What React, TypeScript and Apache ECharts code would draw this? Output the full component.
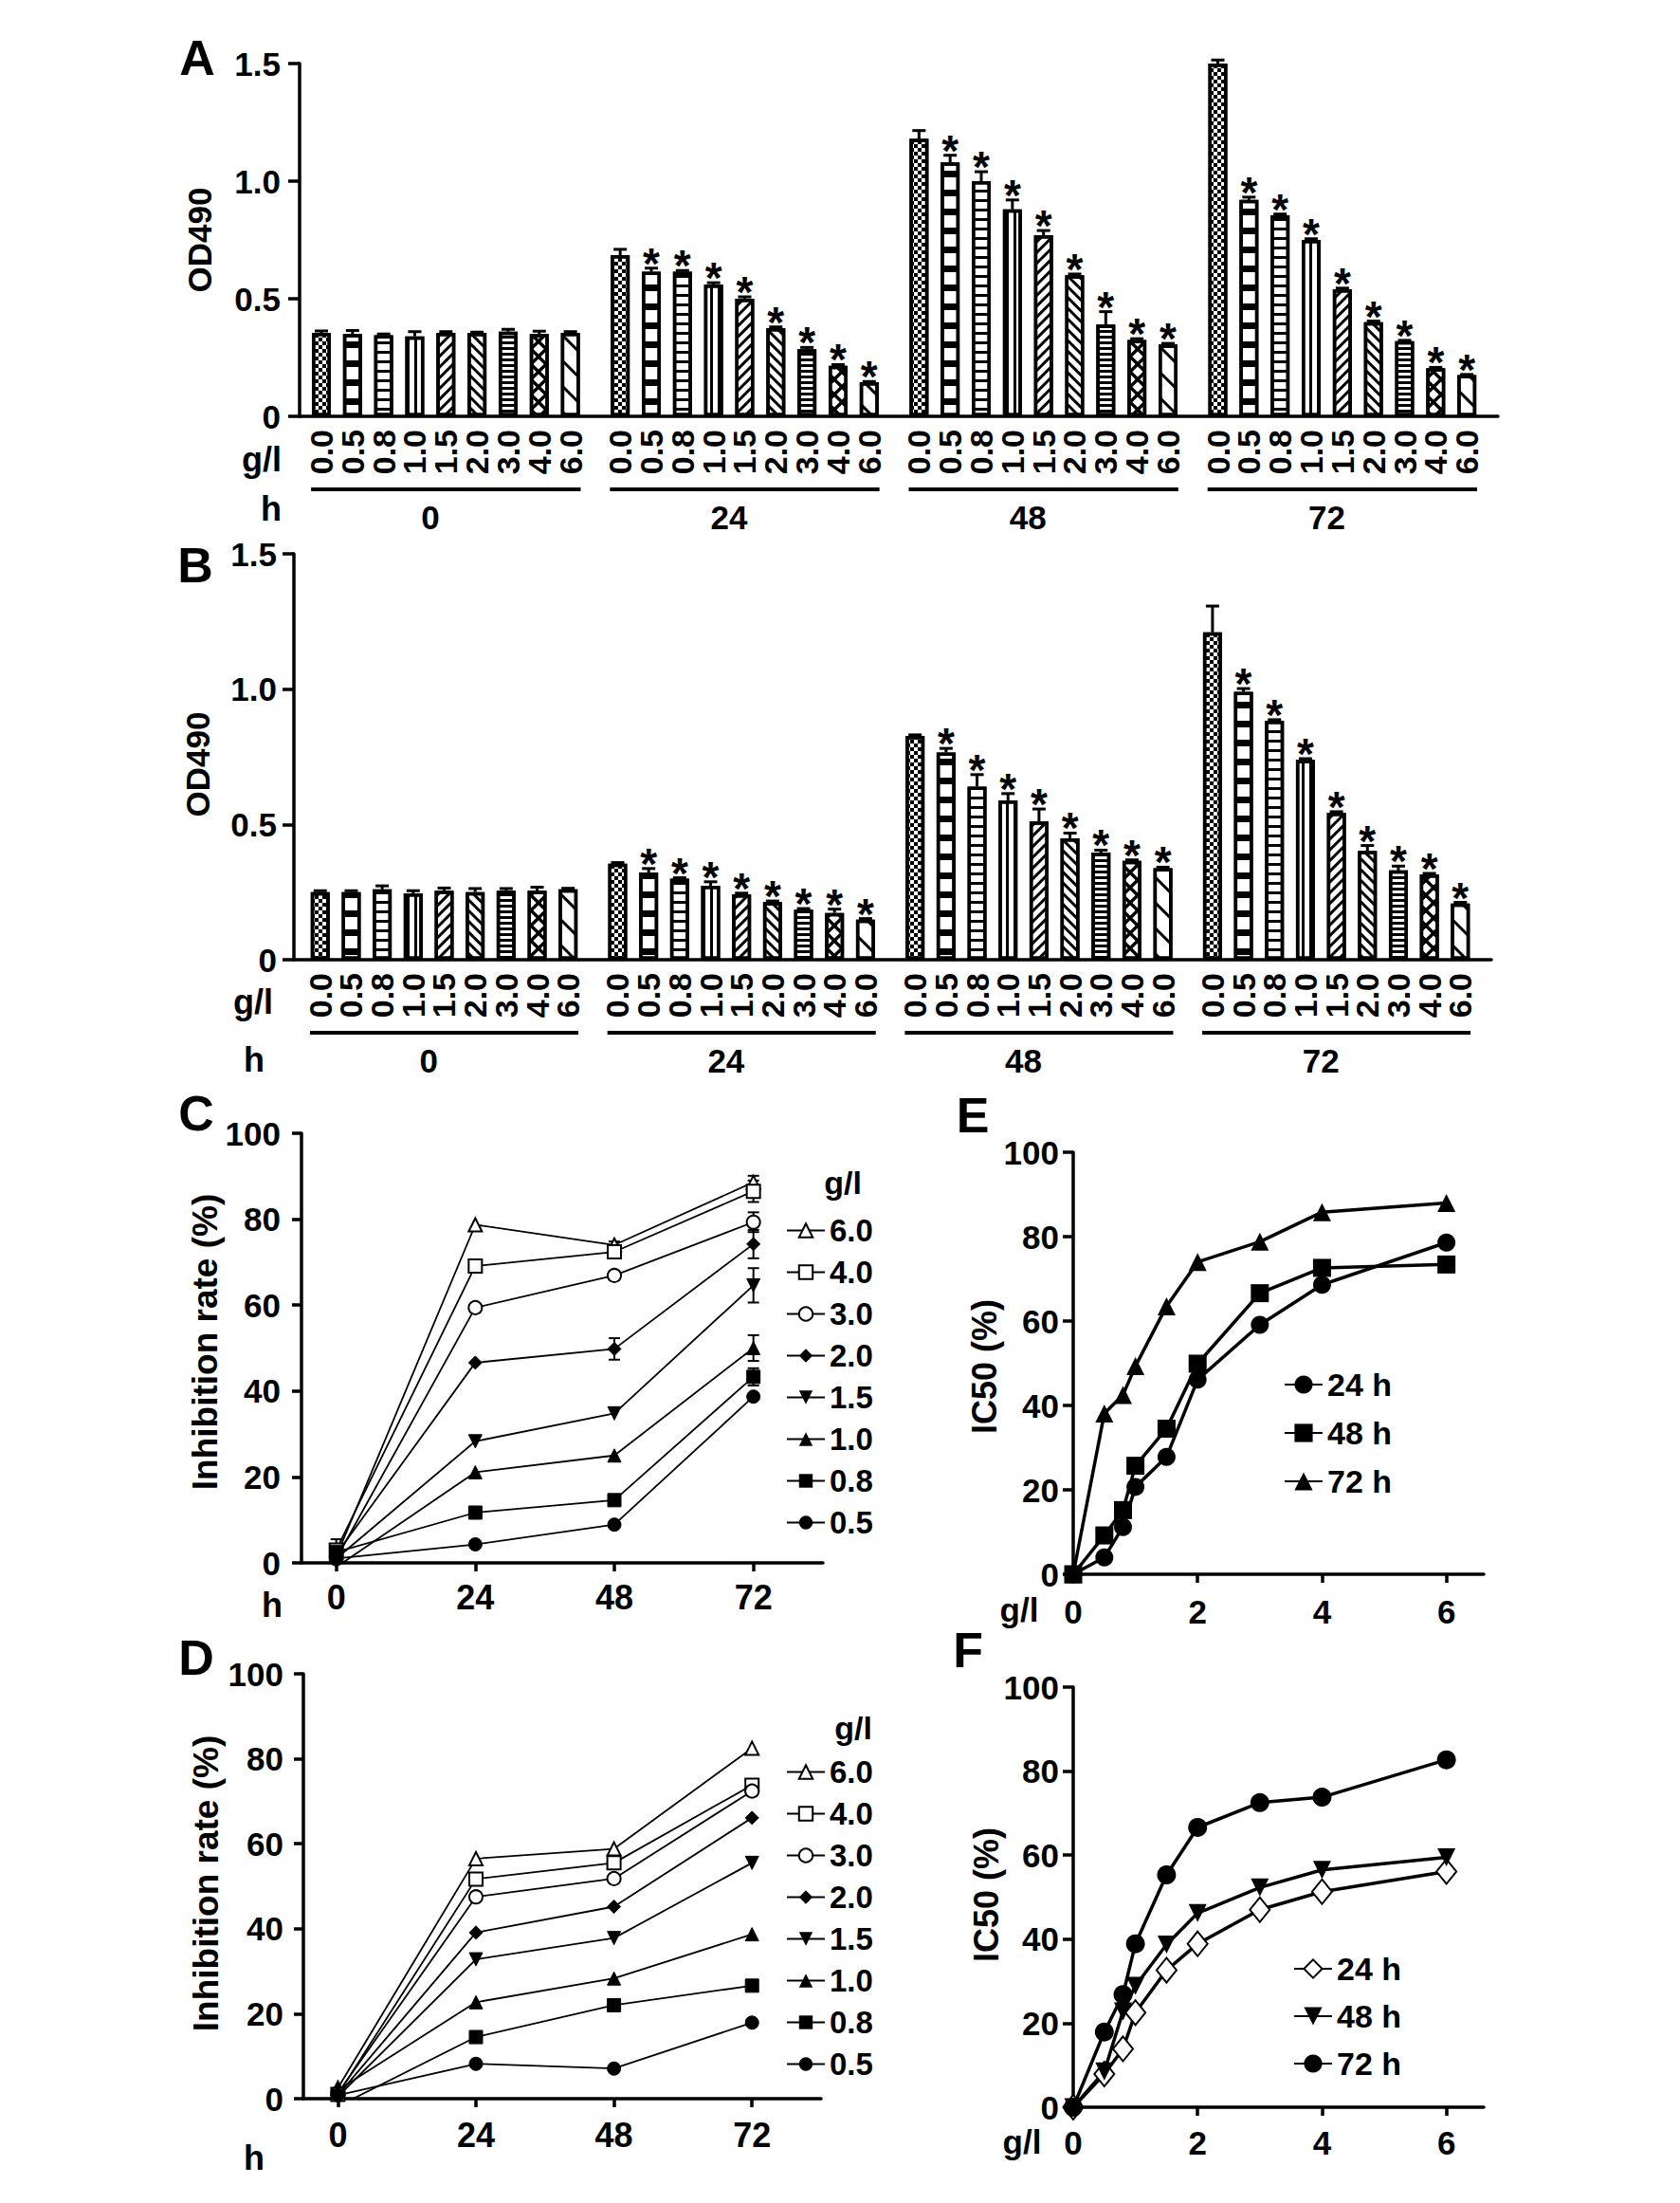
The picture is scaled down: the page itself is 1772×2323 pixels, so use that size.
import { useEffect, useRef } from "react";
import * as echarts from "echarts";

const FONT = "'Liberation Sans', Arial, Helvetica, sans-serif";

// ---- panels A and B: OD490 bars ----
const doses = ["0.0", "0.5", "0.8", "1.0", "1.5", "2.0", "3.0", "4.0", "6.0"];
const hours = [0, 24, 48, 72];

// one row per time point (0, 24, 48, 72 h), one value per dose
const odA = [
  [0.355, 0.35, 0.345, 0.34, 0.355, 0.355, 0.36, 0.35, 0.355],
  [0.685, 0.615, 0.615, 0.56, 0.5, 0.375, 0.285, 0.215, 0.145],
  [1.18, 1.08, 1.0, 0.88, 0.77, 0.6, 0.39, 0.325, 0.305],
  [1.5, 0.92, 0.855, 0.75, 0.54, 0.4, 0.32, 0.205, 0.175],
];
const errA = [
  [0.008, 0.015, 0.005, 0.02, 0.005, 0.003, 0.01, 0.012, 0.005],
  [0.025, 0.015, 0.005, 0.008, 0.008, 0.005, 0.008, 0.005, 0.003],
  [0.035, 0.03, 0.04, 0.04, 0.02, 0.005, 0.055, 0.005, 0.005],
  [0.015, 0.012, 0.005, 0.005, 0.005, 0.005, 0.003, 0.003, 0.003],
];
const odB = [
  [0.25, 0.25, 0.26, 0.245, 0.255, 0.25, 0.255, 0.255, 0.26],
  [0.355, 0.322, 0.3, 0.273, 0.242, 0.213, 0.185, 0.173, 0.148],
  [0.827, 0.766, 0.64, 0.589, 0.511, 0.449, 0.396, 0.365, 0.338],
  [1.21, 0.99, 0.883, 0.739, 0.543, 0.402, 0.33, 0.315, 0.208],
];
const errB = [
  [0.005, 0.005, 0.013, 0.01, 0.01, 0.013, 0.008, 0.013, 0.004],
  [0.004, 0.015, 0.003, 0.015, 0.004, 0.004, 0.004, 0.014, 0.004],
  [0.004, 0.015, 0.044, 0.025, 0.046, 0.019, 0.009, 0.004, 0.004],
  [0.097, 0.012, 0.004, 0.004, 0.004, 0.02, 0.016, 0.004, 0.004],
];
// significance marks (*), same layout
const sig = [
  [0, 0, 0, 0, 0, 0, 0, 0, 0],
  [0, 1, 1, 1, 1, 1, 1, 1, 1],
  [0, 1, 1, 1, 1, 1, 1, 1, 1],
  [0, 1, 1, 1, 1, 1, 1, 1, 1],
];

// ---- panels C and D: inhibition rate vs time ----
const legendDoses = ["6.0", "4.0", "3.0", "2.0", "1.5", "1.0", "0.8", "0.5"];
const inhC = [
  [1.5, 78.7, 74.0, 88.6],
  [3.0, 69.1, 72.4, 86.5],
  [1.0, 59.4, 66.9, 79.3],
  [2.0, 46.6, 49.8, 74.2],
  [1.0, 28.3, 34.8, 64.6],
  [-1.0, 21.1, 25.0, 50.0],
  [2.5, 11.7, 14.6, 43.3],
  [1.0, 4.3, 8.9, 38.7],
];
const errC = [
  [0, 0, 0.8, 1.5],
  [2.5, 0, 0.8, 2.5],
  [0, 0, 0, 2.3],
  [0, 0, 2.5, 3.3],
  [0, 0, 0, 4],
  [0, 0, 0, 3],
  [0, 0, 0, 2],
  [0, 0, 0, 0],
];
const inhD = [
  [2.5, 56.5, 58.8, 82.5],
  [1.0, 51.7, 55.5, 73.8],
  [1.3, 47.5, 51.8, 72.4],
  [0.8, 39.1, 45.2, 66.1],
  [0.5, 32.8, 37.8, 55.5],
  [2.0, 22.7, 28.3, 38.7],
  [-1.8, 14.5, 22.0, 26.6],
  [0.8, 8.2, 7.1, 17.9],
];

// ---- panels E and F: IC50 vs concentration ----
const conc = [0, 0.5, 0.8, 1.0, 1.5, 2.0, 3.0, 4.0, 6.0];
const timeNames = ["24 h", "48 h", "72 h"];
const icE = [
  [0, 4.0, 11.2, 20.7, 27.8, 46.1, 59.1, 68.6, 78.6],
  [0, 9.2, 15.2, 25.7, 34.5, 49.9, 66.6, 72.6, 73.4],
  [0, 38.1, 42.5, 49.3, 63.5, 74.0, 78.8, 85.8, 88.0],
];
const icF = [
  [0, 7.9, 13.9, 22.5, 32.6, 38.9, 47.0, 51.3, 56.1],
  [0, 8.5, 22.8, 28.9, 38.7, 46.2, 52.3, 56.5, 59.5],
  [0, 17.9, 26.8, 38.9, 55.3, 66.6, 72.5, 73.8, 82.7],
];

const GAP = 9.6; // bar slots per time group, incl. spacing
const pos = (g: number, i: number) => g * GAP + i;

const lineDecal = (w: number, gap: number, rot: number) => ({
  symbol: "rect",
  symbolSize: 1,
  color: "#000",
  backgroundColor: "#fff",
  dashArrayX: [1, 0],
  dashArrayY: [w, gap],
  rotation: rot,
});

const decals: any[] = [
  { symbol: "rect", symbolSize: 1, color: "#000", backgroundColor: "#fff", dashArrayX: [[4, 4], [0, 4, 4, 0]], dashArrayY: [4, 0], rotation: 0 },
  lineDecal(7, 13, 0),
  lineDecal(3, 7, 0),
  lineDecal(3, 5, Math.PI / 2),
  lineDecal(3, 5, -Math.PI / 4),
  lineDecal(3, 5, Math.PI / 4),
  lineDecal(2.5, 2.5, 0),
  {
    symbol: "path://M0,0L3,0L10,7L17,0L20,0L20,3L13,10L20,17L20,20L17,20L10,13L3,20L0,20L0,17L7,10L0,3Z",
    symbolSize: 1, color: "#000", backgroundColor: "#fff", dashArrayX: [16, 0], dashArrayY: [16, 0], rotation: 0,
  },
  lineDecal(3, 16, Math.PI / 4),
];

const black = "#000";
const bold = (size: number) => ({ fontSize: size, fontWeight: "bold" as const, fontFamily: FONT, color: black });
const axisLine = { show: true, onZero: false, lineStyle: { color: black, width: 3.5 } };
const tickStyle = { color: black, width: 3.5 };

function barSeries(panel: number, od: number[][]) {
  return doses.map((d, i) => ({
    type: "bar",
    name: `bar${panel}-${d}`,
    xAxisIndex: panel,
    yAxisIndex: panel,
    barWidth: 20,
    barGap: "-100%",
    z: 2,
    itemStyle: { color: "#fff", borderColor: black, borderWidth: 3.5, decal: decals[i] },
    data: hours.map((_, g) => [pos(g, i), od[g][i]]),
  }));
}

function extrasSeries(panel: number, od: number[][], err: number[][]) {
  const data: number[][] = [];
  hours.forEach((_, g) => doses.forEach((__, i) => data.push([pos(g, i), od[g][i], err[g][i], sig[g][i]])));
  return {
    type: "custom",
    xAxisIndex: panel,
    yAxisIndex: panel,
    encode: { x: 0, y: 1 },
    silent: true,
    z: 5,
    data,
    renderItem: (params: any, api: any) => {
      const p = api.value(0);
      const v = api.value(1);
      const e = api.value(2);
      const s = api.value(3);
      const top = api.coord([p, v]);
      const hi = api.coord([p, v + e]);
      const base = api.coord([p, 0]);
      const children: any[] = [];
      if (e > 0) {
        children.push({ type: "line", shape: { x1: top[0], y1: top[1], x2: hi[0], y2: hi[1] }, style: { stroke: black, lineWidth: 3 } });
        children.push({ type: "line", shape: { x1: hi[0] - 7, y1: hi[1], x2: hi[0] + 7, y2: hi[1] }, style: { stroke: black, lineWidth: 3 } });
      }
      if (s) {
        children.push({
          type: "text", x: hi[0], y: hi[1] - 5,
          style: { text: "*", fontSize: 46, fontWeight: "bold", fontFamily: FONT, fill: black, align: "center", verticalAlign: "middle" },
        });
      }
      children.push({
        type: "text", x: base[0], y: base[1] + 14, rotation: Math.PI / 2,
        style: { text: doses[params.dataIndex % doses.length], fontSize: 34, fontWeight: "bold", fontFamily: FONT, fill: black, align: "right", verticalAlign: "middle" },
      });
      return { type: "group", children };
    },
  };
}

function groupSeries(panel: number) {
  return {
    type: "custom",
    xAxisIndex: panel,
    yAxisIndex: panel,
    encode: { x: 0, y: 1 },
    silent: true,
    data: hours.map((h, g) => [pos(g, 0), 0, pos(g, doses.length - 1), h]),
    renderItem: (_: any, api: any) => {
      const a = api.coord([api.value(0) - 0.33, 0]);
      const b = api.coord([api.value(2) + 0.33, 0]);
      const mid = api.coord([(api.value(0) + api.value(2)) / 2 - 0.5, 0]);
      return {
        type: "group",
        children: [
          { type: "line", shape: { x1: a[0], y1: a[1] + 77, x2: b[0], y2: a[1] + 77 }, style: { stroke: black, lineWidth: 4 } },
          {
            type: "text", x: mid[0], y: a[1] + 106,
            style: { text: String(api.value(3)), fontSize: 35, fontWeight: "bold", fontFamily: FONT, fill: black, align: "center", verticalAlign: "middle" },
          },
        ],
      };
    },
  };
}

const symbolsCD: { symbol: string; rotate?: number }[] = [
  { symbol: "emptyTriangle" },
  { symbol: "emptyRect" },
  { symbol: "emptyCircle" },
  { symbol: "diamond" },
  { symbol: "triangle", rotate: 180 },
  { symbol: "triangle" },
  { symbol: "rect" },
  { symbol: "circle" },
];

function timeSeries(panel: number, prefix: string, vals: number[][]) {
  return legendDoses.map((d, j) => ({
    type: "line",
    name: `${prefix} ${d}`,
    xAxisIndex: panel,
    yAxisIndex: panel,
    symbol: symbolsCD[j].symbol,
    symbolRotate: symbolsCD[j].rotate ?? 0,
    symbolSize: 14,
    z: 4,
    lineStyle: { color: black, width: 1.8 },
    itemStyle: { color: black, borderColor: black },
    data: hours.map((h, k) => [h, vals[j][k]]),
  }));
}

function errSeriesC() {
  const data: number[][] = [];
  legendDoses.forEach((_, j) => hours.forEach((h, k) => {
    if (errC[j][k] > 0) data.push([h, inhC[j][k], errC[j][k]]);
  }));
  return {
    type: "custom",
    xAxisIndex: 2,
    yAxisIndex: 2,
    encode: { x: 0, y: 1 },
    silent: true,
    z: 3,
    data,
    renderItem: (_: any, api: any) => {
      const x = api.value(0), y = api.value(1), e = api.value(2);
      const lo = api.coord([x, y - e]);
      const hi = api.coord([x, y + e]);
      const st = { stroke: black, lineWidth: 2 };
      return {
        type: "group",
        children: [
          { type: "line", shape: { x1: lo[0], y1: lo[1], x2: hi[0], y2: hi[1] }, style: st },
          { type: "line", shape: { x1: lo[0] - 6, y1: lo[1], x2: lo[0] + 6, y2: lo[1] }, style: st },
          { type: "line", shape: { x1: hi[0] - 6, y1: hi[1], x2: hi[0] + 6, y2: hi[1] }, style: st },
        ],
      };
    },
  };
}

const symbolsE = [{ symbol: "circle" }, { symbol: "rect" }, { symbol: "triangle" }];
const symbolsF = [{ symbol: "emptyDiamond", size: [21, 26] }, { symbol: "triangle", rotate: 180, size: 19 }, { symbol: "circle", size: 20 }];

function concSeries(panel: number, prefix: string, vals: number[][]) {
  return timeNames.map((t, j) => {
    const sym: any = panel === 4 ? symbolsE[j] : symbolsF[j];
    return {
      type: "line",
      name: `${prefix} ${t}`,
      xAxisIndex: panel,
      yAxisIndex: panel,
      symbol: sym.symbol,
      symbolRotate: sym.rotate ?? 0,
      symbolSize: sym.size ?? 19,
      z: 4,
      lineStyle: { color: black, width: 3.5 },
      itemStyle: { color: black, borderColor: black, borderWidth: sym.symbol.startsWith("empty") ? 3.5 : 0 },
      data: conc.map((c, k) => [c, vals[j][k]]),
    };
  });
}

const grids = [
  { left: 316, top: 67, width: 1264, height: 372 },
  { left: 310, top: 584, width: 1263, height: 428 },
  { left: 318, top: 1195, width: 550, height: 453 },
  { left: 320, top: 1765, width: 546, height: 448 },
  { left: 1132, top: 1215, width: 433, height: 445 },
  { left: 1132, top: 1779, width: 433, height: 443 },
];

const barX = (gi: number, min: number) => ({
  type: "value", gridIndex: gi, min, max: 37.8,
  axisLine: { show: true, onZero: true, lineStyle: { color: black, width: 3.5 } },
  axisTick: { show: false }, axisLabel: { show: false }, splitLine: { show: false },
});
const barY = (gi: number, margin: number) => ({
  type: "value", gridIndex: gi, min: 0, max: 1.5, interval: 0.5,
  axisLine,
  axisTick: { show: true, length: 12, lineStyle: tickStyle },
  axisLabel: { ...bold(35), margin, formatter: (v: number) => (v === 0 ? "0" : v.toFixed(1)) },
  splitLine: { show: false },
});
const lineX = (gi: number, min: number, max: number, ticks: number[], size: number, margin: number) => ({
  type: "value", gridIndex: gi, min, max,
  axisLine: { show: true, onZero: true, lineStyle: { color: black, width: 3.5 } },
  axisTick: { show: true, length: 9, lineStyle: tickStyle, customValues: ticks },
  axisLabel: { ...bold(size), margin, customValues: ticks },
  splitLine: { show: false },
});
const pctY = (gi: number, size: number, margin: number, tick: number) => ({
  type: "value", gridIndex: gi, min: 0, max: 100, interval: 20,
  axisLine,
  axisTick: { show: true, length: tick, lineStyle: tickStyle },
  axisLabel: { ...bold(size), margin },
  splitLine: { show: false },
});

const txt = (text: string, x: number, y: number, size: number, rotation = 0) => ({
  type: "text", x, y, rotation, silent: true,
  style: { text, fontSize: size, fontWeight: "bold", fontFamily: FONT, fill: black, align: "center", verticalAlign: "middle" },
});

const legendBase = {
  orient: "vertical",
  selectedMode: false,
  padding: 0,
  itemWidth: 40,
  formatter: (n: string) => n.slice(2),
};

export default function App() {
  const ref = useRef<HTMLDivElement>(null);

  useEffect(() => {
    if (!ref.current) return;
    const chart = echarts.init(ref.current, null, { renderer: "svg" });
    const R = Math.PI / 2;

    const option: any = {
      animation: false,
      backgroundColor: "#fff",
      grid: grids,
      xAxis: [
        barX(0, -0.7),
        barX(1, -0.85),
        lineX(2, -6, 84, hours, 36, 18),
        lineX(3, -6, 84, hours, 36, 20),
        lineX(4, 0, 6.6, [0, 2, 4, 6], 35, 22),
        lineX(5, 0, 6.6, [0, 2, 4, 6], 35, 20),
      ],
      yAxis: [
        barY(0, 20),
        barY(1, 18),
        pctY(2, 35, 22, 10),
        pctY(3, 35, 21, 10),
        pctY(4, 35, 15, 11),
        pctY(5, 35, 15, 11),
      ],
      legend: [
        { ...legendBase, left: 829, top: 1281, itemHeight: 18, itemGap: 11, data: legendDoses.map((d) => `C ${d}`), textStyle: bold(33) },
        { ...legendBase, left: 829, top: 1852, itemHeight: 18, itemGap: 11, data: legendDoses.map((d) => `D ${d}`), textStyle: bold(33) },
        { ...legendBase, left: 1354, top: 1443, itemHeight: 24, itemGap: 17, data: timeNames.map((t) => `E ${t}`), textStyle: bold(34) },
        { ...legendBase, left: 1364, top: 2059, itemHeight: 24, itemGap: 16, data: timeNames.map((t) => `F ${t}`), textStyle: bold(34) },
      ],
      graphic: [
        txt("A", 208, 61, 52),
        txt("B", 206, 596, 52),
        txt("C", 207, 1174, 52),
        txt("D", 207, 1748, 52),
        txt("E", 1026, 1176, 52),
        txt("F", 1021, 1740, 52),
        txt("OD490", 210, 253, 35, R),
        txt("OD490", 208, 806, 35, R),
        txt("g/l", 276, 484, 36),
        txt("h", 286, 536, 36),
        txt("g/l", 267, 1056, 36),
        txt("h", 268, 1117, 36),
        txt("Inhibition rate (%)", 216, 1415, 37, R),
        txt("Inhibition rate (%)", 217, 1986, 37, R),
        txt("h", 287, 1692, 36),
        txt("h", 268, 2275, 36),
        txt("g/l", 889, 1247, 34),
        txt("g/l", 900, 1822, 34),
        txt("IC50 (%)", 1038, 1441, 36, R),
        txt("IC50 (%)", 1040, 1998, 36, R),
        txt("g/l", 1075, 1697, 35),
        txt("g/l", 1078, 2258, 35),
      ],
      series: [
        ...barSeries(0, odA),
        extrasSeries(0, odA, errA),
        groupSeries(0),
        ...barSeries(1, odB),
        extrasSeries(1, odB, errB),
        groupSeries(1),
        errSeriesC(),
        ...timeSeries(2, "C", inhC),
        ...timeSeries(3, "D", inhD),
        ...concSeries(4, "E", icE),
        ...concSeries(5, "F", icF),
      ],
    };

    chart.setOption(option);
    return () => chart.dispose();
  }, []);

  return (
    <div
      ref={ref}
      style={{ position: "absolute", left: 0, top: 0, width: 1772, height: 2323, background: "#fff" }}
    />
  );
}
